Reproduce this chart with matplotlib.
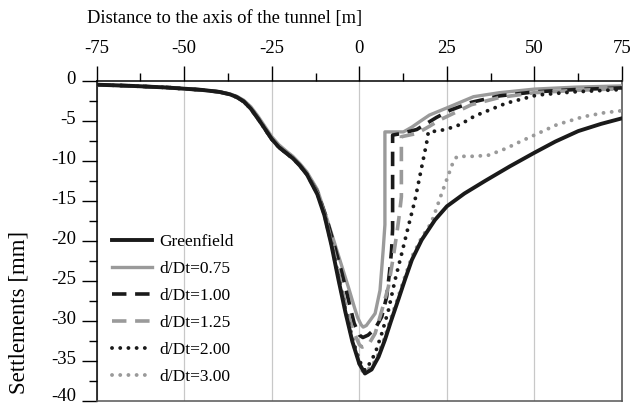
import matplotlib
matplotlib.use("Agg")
import matplotlib.pyplot as plt
from matplotlib.ticker import MultipleLocator
from matplotlib.transforms import ScaledTranslation

plt.rcParams['font.family'] = ['Liberation Serif', 'DejaVu Serif']
plt.rcParams['axes.unicode_minus'] = False

# ---------------- data ----------------
left_x = [-75, -65, -55, -45, -40, -37, -35, -33, -31, -29, -27, -25, -23, -21, -19, -17, -15]
left_y = [-0.5, -0.65, -0.85, -1.15, -1.4, -1.7, -2.05, -2.6, -3.5, -4.7, -6.0, -7.3,
          -8.3, -9.0, -9.7, -10.6, -11.7]
left_y_075 = [-0.5, -0.65, -0.85, -1.15, -1.4, -1.65, -1.95, -2.45, -3.25, -4.4, -5.7,
              -7.0, -8.0, -8.75, -9.45, -10.35, -11.4]

gf_x = left_x + [-12, -10, -8, -6, -4, -2, 0, 1.6, 3.5, 5.5, 7.3, 9, 11.1, 13, 15,
                 17.8, 21.6, 25, 30, 36, 43, 50, 56, 62.5, 69, 75]
gf_y = left_y + [-14.2, -16.8, -20.5, -24.8, -28.9, -32.6, -35.4, -36.6, -36.1, -34.5,
                 -32.4, -30.1, -27.4, -24.9, -22.4, -19.9, -17.4, -15.7, -14.1, -12.5,
                 -10.7, -9.0, -7.6, -6.3, -5.4, -4.7]

d075_x = left_x + [-12, -9.3, -7, -5, -3, -1.5, -0.5, 0.5, 1.1, 2, 3, 4.5, 5.9, 6.8, 7.3,
                   7.3, 12.6, 15, 17.3, 20, 25, 32.6, 40, 50, 62, 75]
d075_y = left_y_075 + [-13.6, -17.2, -20.4, -23.2, -26.0, -28.2, -29.6, -30.5, -30.8,
                       -30.6, -30.0, -29.1, -26.2, -21.2, -18.0, -6.4, -6.4, -5.8, -5.1,
                       -4.3, -3.4, -2.0, -1.5, -1.05, -0.8, -0.65]

d100_x = left_x + [-12, -9.5, -7, -5, -3, -1.5, 0, 1, 2.5, 4.5, 6.4, 7.8, 8.6, 9.2, 9.5,
                   9.5, 12, 16.4, 22, 25.9, 32, 40, 50, 62, 75]
d100_y = left_y + [-13.9, -17.0, -20.8, -24.0, -27.6, -30.3, -31.8, -32.1, -31.8, -31.0,
                   -29.5, -27.0, -24.0, -21.2, -18.5, -6.8, -6.6, -6.1, -4.6, -3.7, -2.7,
                   -1.9, -1.4, -1.1, -0.9]

d125_x = left_x + [-12, -10, -8, -6, -4, -2, 0, 0.8, 2.6, 4.5, 6.5, 8.3, 9.7, 10.7, 11.5,
                   12, 12, 16.4, 20, 23, 26.8, 32, 40, 50, 62, 75]
d125_y = left_y + [-14.0, -16.5, -20.0, -23.9, -27.9, -31.0, -33.0, -33.3, -33.0, -31.6,
                   -28.6, -25.75, -22.0, -19.1, -16.5, -14.5, -7.0, -6.6, -5.7, -4.9,
                   -4.1, -3.0, -2.1, -1.5, -1.2, -1.0]

d200_x = left_x + [-12, -10, -8, -6, -4, -2, 0, 1.6, 2.6, 4.5, 6.4, 8.3, 10.2, 12.1, 14,
                   15.9, 17.8, 19.2, 19.7, 23, 26, 28.7, 33, 42, 50.7, 61, 75]
d200_y = left_y + [-14.1, -16.6, -20.2, -24.4, -28.5, -32.2, -35.0, -36.2, -35.6, -34.1,
                   -31.6, -28.7, -24.9, -21.6, -18.2, -14.9, -10.8, -7.8, -6.4, -6.25,
                   -5.9, -5.5, -4.4, -2.8, -1.8, -1.4, -1.1]

d300_x = left_x + [-12, -10, -8, -6, -4, -2, 0, 1, 3.5, 5.5, 7.3, 9, 11.1, 13, 15, 17.8,
                   20.5, 22, 23.5, 25, 26.5, 27.8, 30, 33, 37, 42, 46, 50, 56.4, 64, 70, 75]
d300_y = left_y + [-14.1, -16.7, -20.4, -24.6, -28.7, -32.4, -35.4, -36.4, -35.8, -34.1,
                   -32.0, -29.7, -27.0, -24.5, -22.0, -19.6, -17.8, -16.0, -14.1, -12.3,
                   -10.5, -9.5, -9.45, -9.45, -9.3, -8.45, -7.6, -6.8, -5.5, -4.5, -4.0,
                   -3.75]

labels = ['Greenfield', 'd/Dt=0.75', 'd/Dt=1.00', 'd/Dt=1.25', 'd/Dt=2.00', 'd/Dt=3.00']
x_ticks = [-75, -50, -25, 0, 25, 50, 75]
y_ticks = [0, -5, -10, -15, -20, -25, -30, -35, -40]

# ---------------- figure ----------------
W, H = 642, 405
fig = plt.figure(figsize=(W / 100, H / 100), dpi=100)
L, R, T, B = 96.7, 622.0, 80.7, 400.7
ax = fig.add_axes([L / W, (H - B) / H, (R - L) / W, (B - T) / H])

BLACK = '#1a1a1a'
GREY = '#9a9a9a'
dash = (0, (4.0, 2.4))
dot = (0, (0.01, 2.1))

h075, = ax.plot(d075_x, d075_y, color=GREY, lw=2.4, zorder=3, solid_joinstyle='round')
h100, = ax.plot(d100_x, d100_y, color=BLACK, lw=2.6, ls=dash, zorder=4)
h125, = ax.plot(d125_x, d125_y, color=GREY, lw=2.6, ls=dash, zorder=4)
h200, = ax.plot(d200_x, d200_y, color=BLACK, lw=2.8, ls=dot, dash_capstyle='round', zorder=5)
h300, = ax.plot(d300_x, d300_y, color=GREY, lw=2.8, ls=dot, dash_capstyle='round', zorder=5)
hgf, = ax.plot(gf_x, gf_y, color=BLACK, lw=2.8, zorder=6, solid_joinstyle='round')

ax.set_xlim(-75, 75)
ax.set_ylim(-40, 0)
ax.xaxis.tick_top()
ax.set_xticks(x_ticks)
ax.set_xticklabels([str(v) for v in x_ticks])
ax.xaxis.set_minor_locator(MultipleLocator(12.5))
ax.set_yticks(y_ticks)
ax.set_yticklabels([str(v) for v in y_ticks])
ax.yaxis.set_minor_locator(MultipleLocator(2.5))

ax.tick_params(axis='x', which='major', direction='out', length=11, width=1.0,
               labelsize=13.5, pad=6, colors='black', top=True, bottom=False)
ax.tick_params(axis='x', which='minor', direction='out', length=6, width=1.0,
               top=True, bottom=False)
ax.tick_params(axis='y', which='major', direction='out', length=11, width=1.0,
               labelsize=13.5, pad=4, colors='black')
ax.tick_params(axis='y', which='minor', direction='out', length=6, width=1.0)

# y tick labels sit a little above their ticks in the reference;
# the lowest one is lifted a bit more so it stays inside the picture
ylabels = ax.get_yticklabels()
for i, lab in enumerate(ylabels):
    dy = 6.5 if i == len(ylabels) - 1 else 3.5
    lab.set_transform(lab.get_transform() + ScaledTranslation(0, dy / 100, fig.dpi_scale_trans))

ax.grid(axis='x', which='major', color='#c8c8c8', lw=0.9, zorder=0)
ax.set_axisbelow(True)

ax.spines['top'].set_color('black')
ax.spines['top'].set_linewidth(1.1)
ax.spines['left'].set_color('black')
ax.spines['left'].set_linewidth(1.1)
ax.spines['right'].set_color('#666666')
ax.spines['right'].set_linewidth(1.3)
ax.spines['bottom'].set_color('#555555')
ax.spines['bottom'].set_linewidth(1.1)

fig.text(225 / W, 1 - 18 / H, 'Distance to the axis of the tunnel [m]',
         ha='center', va='center', fontsize=13.3)
fig.text(19 / W, 1 - 312 / H, 'Settlements [mm]', rotation=90,
         ha='center', va='center', fontsize=16.5)

ax.legend([hgf, h075, h100, h125, h200, h300], labels,
          loc='upper left', bbox_to_anchor=(112 / W, 1 - 234 / H),
          bbox_transform=fig.transFigure, frameon=False, fontsize=12.5,
          borderpad=0, borderaxespad=0, handlelength=2.3, handletextpad=0.45,
          labelspacing=0.62)

fig.savefig('out.png', dpi=100)
